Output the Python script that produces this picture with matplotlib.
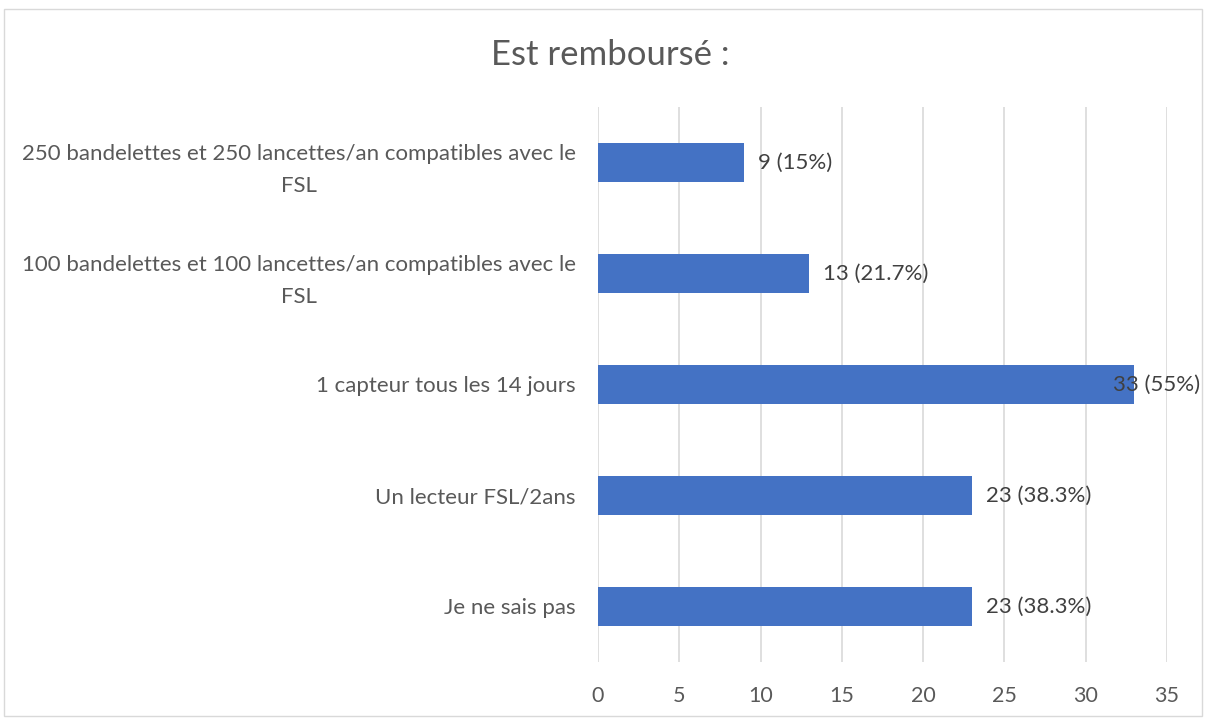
import matplotlib.pyplot as plt
from matplotlib.patches import Rectangle

categories = [
    "250 bandelettes et 250 lancettes/an compatibles avec le\nFSL",
    "100 bandelettes et 100 lancettes/an compatibles avec le\nFSL",
    "1 capteur tous les 14 jours",
    "Un lecteur FSL/2ans",
    "Je ne sais pas",
]
counts = [9, 13, 33, 23, 23]
labels = ["9 (15%)", "13 (21.7%)", "33 (55%)", "23 (38.3%)", "23 (38.3%)"]
xticks = [0, 5, 10, 15, 20, 25, 30, 35]

bar_color = "#4472C4"
grid_color = "#D9D9D9"
text_color = "#595959"
label_color = "#404040"

plt.rcParams['font.family'] = ['Lato', 'DejaVu Sans']

fig = plt.figure(figsize=(12.06, 7.2), dpi=100)
ax = fig.add_axes([598 / 1206, 1 - 662 / 720, (1167 - 598) / 1206, (662 - 107) / 720])

# chart border like the Excel chart area
fig.patches.append(Rectangle((4 / 1206, 1 - 716 / 720), 1198 / 1206, 707 / 720,
                             transform=fig.transFigure, fill=False,
                             edgecolor="#D9D9D9", linewidth=1))

pos = list(range(len(categories)))[::-1]
ax.barh(pos, counts, height=0.355, color=bar_color, zorder=3)

ax.set_xlim(0, 35)
ax.set_ylim(-0.5, len(categories) - 0.5)
ax.set_xticks(xticks)
ax.set_yticks(pos)
ax.set_yticklabels(categories, ha='right', multialignment='center', linespacing=1.7)
ax.tick_params(axis='y', length=0, pad=16, labelsize=16, labelcolor=text_color)
ax.tick_params(axis='x', length=0, pad=17, labelsize=15.5, labelcolor=text_color)
ax.grid(axis='x', color=grid_color, linewidth=1.2, zorder=0)
for s in ax.spines.values():
    s.set_visible(False)

fig.text(0.506, 1 - 55 / 720, "Est remboursé :", ha='center', va='center',
         fontsize=25, color=text_color)

texts = []
for p, v, lab in zip(pos, counts, labels):
    t = ax.annotate(lab, (v, p), xytext=(10, 0), textcoords='offset points',
                    ha='left', va='center', fontsize=16, color=label_color, zorder=4)
    texts.append(t)

# keep labels inside the chart area (Excel shifts them left)
fig.canvas.draw()
r = fig.canvas.get_renderer()
limit = 1200
for t in texts:
    bb = t.get_window_extent(r)
    if bb.x1 > limit:
        dx = (bb.x1 - limit) * 72 / fig.dpi
        t.xyann = (10 - dx, 0)

fig.savefig("out.png", dpi=100)
